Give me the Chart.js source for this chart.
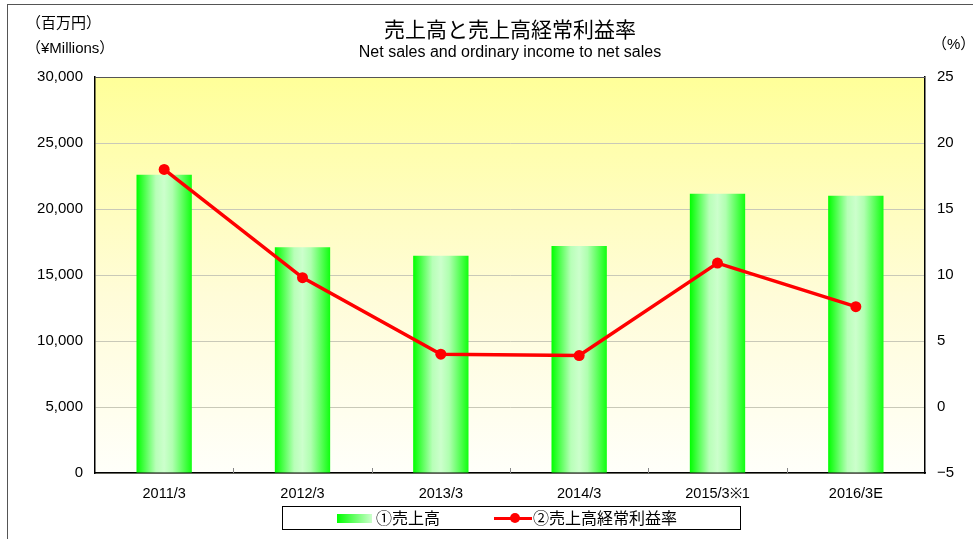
<!DOCTYPE html>
<html>
<head>
<meta charset="utf-8">
<script src="https://cdn.jsdelivr.net/npm/chart.js@4"></script>
<style>
  body { margin: 0; background: #fff; }
  #wrap { position: relative; width: 973px; height: 539px; overflow: hidden; font-family: "Liberation Sans", "Noto Sans CJK JP", sans-serif; color: #000; }
  #frame { position: absolute; left: 7px; top: 4px; right: -5px; bottom: -5px; border: 1px solid #555; }
  canvas { position: absolute; left: 0; top: 0; }
  .txt { position: absolute; white-space: nowrap; }
  #ttl { left: 0; width: 1020px; top: 13px; text-align: center; font-family: "Noto Sans CJK JP", sans-serif; font-size: 21px; }
  #sub { left: 0; width: 1020px; top: 43px; text-align: center; font-size: 16px; }
  #u1 { left: 26px; top: 11px; font-family: "Noto Sans CJK JP", sans-serif; font-size: 15px; }
  #u2 { left: 26px; top: 36px; font-size: 15px; }
  #u3 { left: 932px; top: 32px; font-size: 15px; }
  #legend { position: absolute; left: 282px; top: 506px; width: 457px; height: 22px; border: 1px solid #000; background: #fff; font-family: "Noto Sans CJK JP", sans-serif; font-size: 16px; }
  .sw { position: absolute; left: 54px; top: 7px; width: 35px; height: 9px; background: linear-gradient(to right, #00ff00, #ccffcc); }
  .ln { position: absolute; left: 211px; top: 10px; width: 38px; height: 3px; background: #ff0000; }
  .dot { position: absolute; left: 227px; top: 6px; width: 10px; height: 10px; border-radius: 50%; background: #ff0000; }
  .lt { position: absolute; top: -2px; }
</style>
</head>
<body>
<div id="wrap">
  <div id="frame"></div>
  <canvas id="myChart" width="973" height="539"></canvas>
  <div class="txt" id="ttl">売上高と売上高経常利益率</div>
  <div class="txt" id="sub">Net sales and ordinary income to net sales</div>
  <div class="txt" id="u1">（百万円）</div>
  <div class="txt" id="u2">（¥Millions）</div>
  <div class="txt" id="u3">（%）</div>
  <div id="legend">
    <div class="sw"></div><div class="lt" style="left:93px">①売上高</div>
    <div class="ln"></div><div class="dot"></div><div class="lt" style="left:250px">②売上高経常利益率</div>
  </div>
</div>
<script>
const categories = ['2011/3', '2012/3', '2013/3', '2014/3', '2015/3※1', '2016/3E'];
const netSales = [22600, 17100, 16450, 17200, 21150, 21000];
const marginPct = [18.0, 9.8, 4.0, 3.9, 10.9, 7.6];
const salesTicks = [0, 30000, 5000];
const pctTicks = [-5, 25, 5];

const BAR_PCT = 0.4;

function barGradient(ctx) {
    const chart = ctx.chart;
    const xs = chart.scales.x;
    if (!xs || ctx.dataIndex === undefined) return '#66ff66';
    const cx = xs.getPixelForValue(ctx.dataIndex);
    const w = (xs.right - xs.left) / categories.length * BAR_PCT;
    if (!isFinite(cx) || !isFinite(w) || w <= 0) return '#66ff66';
    const g = chart.ctx.createLinearGradient(cx - w / 2, 0, cx + w / 2, 0);
    g.addColorStop(0, '#00ff00');
    g.addColorStop(0.35, '#b8ffb8');
    g.addColorStop(0.5, '#ccffcc');
    g.addColorStop(0.65, '#b0ffb0');
    g.addColorStop(1, '#10ff10');
    return g;
}

// plot background and frame
const plotBg = {
    id: 'plotBg',
    beforeDraw(chart) {
        const a = chart.chartArea, c = chart.ctx;
        const g = c.createLinearGradient(0, a.top, 0, a.bottom);
        g.addColorStop(0, '#ffff99');
        g.addColorStop(0.55, '#fffcd8');
        g.addColorStop(1, '#fffffa');
        c.save();
        c.fillStyle = g;
        c.fillRect(a.left, a.top, a.right - a.left, a.bottom - a.top);
        c.restore();
    },
    afterDraw(chart) {
        const a = chart.chartArea, c = chart.ctx, xs = chart.scales.x;
        c.save();
        c.strokeStyle = '#555';
        c.lineWidth = 1;
        c.beginPath();
        c.moveTo(a.left, a.top + 0.5);
        c.lineTo(a.right, a.top + 0.5);
        c.stroke();
        c.strokeStyle = '#888';
        for (let i = 1; i < categories.length; i++) {
            const x = Math.round((xs.getPixelForValue(i - 1) + xs.getPixelForValue(i)) / 2) + 0.5;
            c.beginPath();
            c.moveTo(x, a.bottom);
            c.lineTo(x, a.bottom - 5);
            c.stroke();
        }
        c.restore();
    }
};

const chart = new Chart(document.getElementById('myChart'), {
    type: 'bar',
    data: {
        labels: categories,
        datasets: [{
            label: '①売上高',
            data: netSales,
            yAxisID: 'y',
            backgroundColor: barGradient,
            borderWidth: 0,
            barPercentage: BAR_PCT,
            categoryPercentage: 1,
            order: 1
        }, {
            type: 'line',
            label: '②売上高経常利益率',
            data: marginPct,
            yAxisID: 'y1',
            borderColor: '#ff0000',
            backgroundColor: '#ff0000',
            borderWidth: 3.5,
            pointRadius: 5.5,
            pointBorderWidth: 0,
            tension: 0,
            order: 0
        }]
    },
    options: {
        responsive: false,
        animation: false,
        layout: { padding: { top: 77, left: 0, right: 0, bottom: 0 } },
        plugins: {
            legend: { display: false },
            tooltip: { enabled: false }
        },
        scales: {
            x: {
                grid: { drawOnChartArea: false, drawTicks: false },
                border: { color: '#000', width: 1.5 },
                ticks: { color: '#000', padding: 12, font: { family: 'Liberation Sans', size: 14.5 }, maxRotation: 0 },
                afterFit(s) { s.height = 66; }
            },
            y: {
                position: 'left',
                min: salesTicks[0],
                max: salesTicks[1],
                grid: { color: '#c9c9b8', drawTicks: false },
                border: { color: '#000', width: 1.5 },
                ticks: {
                    stepSize: salesTicks[2],
                    color: '#000',
                    padding: 12,
                    font: { family: 'Liberation Sans', size: 15 },
                    callback: v => v.toLocaleString('en-US')
                },
                afterFit(s) { s.width = 95; }
            },
            y1: {
                position: 'right',
                min: pctTicks[0],
                max: pctTicks[1],
                grid: { drawOnChartArea: false, drawTicks: false },
                border: { color: '#000', width: 1.5 },
                ticks: {
                    stepSize: pctTicks[2],
                    color: '#000',
                    padding: 12,
                    font: { family: 'Liberation Sans', size: 15 },
                    callback: v => v < 0 ? '\u2212' + Math.abs(v) : v
                },
                afterFit(s) { s.width = 48; }
            }
        }
    },
    plugins: [plotBg]
});
chart.update();
</script>
</body>
</html>
